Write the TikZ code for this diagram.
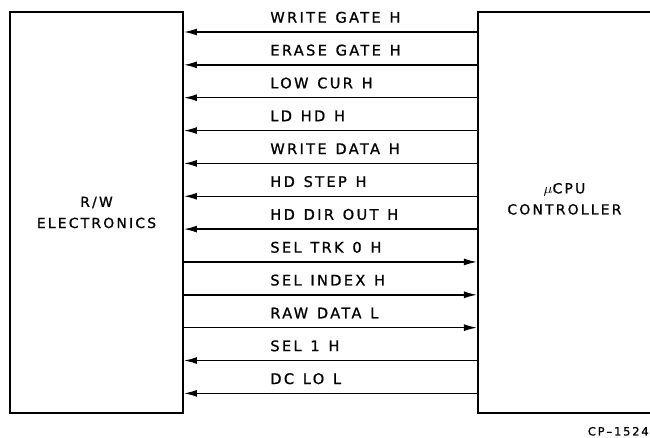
\documentclass[tikz,border=0pt]{standalone}
\usepackage{fontspec}
\newfontfamily\lettering[LetterSpace=16, FakeBold=1]{DejaVu Sans}
\newcommand\wsp{\hspace{0.6em}}
\usetikzlibrary{arrows.meta,positioning}

\begin{document}
\begin{tikzpicture}[
  node distance=0.263cm,
  unit/.style={rectangle, draw, line width=1.1pt, minimum width=3.46cm, minimum height=8.02cm, align=center, font=\lettering\fontsize{7.9}{12}\selectfont},
  sig/.style={rectangle, inner sep=0pt, text width=3.8cm, align=left, text height=0.2cm, text depth=0.18cm, font=\lettering\fontsize{8.3}{10}\selectfont},
  signal/.style={-{Latex[length=2.6mm, width=1.4mm]}, line width=0.8pt}
]
\useasboundingbox (0,0) rectangle (13,-8.76);
\node[unit] (rw) at (1.93,-4.25) {R/W\\ELECTRONICS};
\node[unit, right=5.86cm of rw, text depth=0.55cm] (ctrl) {$\mu$CPU\\CONTROLLER};
\node[sig, anchor=south west] (s1) at (5.4,-0.64) {WRITE\wsp GATE\wsp H};
\node[sig, below=of s1] (s2) {ERASE\wsp GATE\wsp H};
\node[sig, below=of s2] (s3) {LOW\wsp CUR\wsp H};
\node[sig, below=of s3] (s4) {LD\wsp HD\wsp H};
\node[sig, below=of s4] (s5) {WRITE\wsp DATA\wsp H};
\node[sig, below=of s5] (s6) {HD\wsp STEP\wsp H};
\node[sig, below=of s6] (s7) {HD\wsp DIR\wsp OUT\wsp H};
\node[sig, below=of s7] (s8) {SEL\wsp TRK\wsp 0\wsp H};
\node[sig, below=of s8] (s9) {SEL\wsp INDEX\wsp H};
\node[sig, below=of s9] (s10) {RAW\wsp DATA\wsp L};
\node[sig, below=of s10] (s11) {SEL\wsp 1\wsp H};
\node[sig, below=of s11] (s12) {DC\wsp LO\wsp L};
\draw[signal] (ctrl.west |- s1.south) -- (rw.east |- s1.south);
\draw[signal] (ctrl.west |- s2.south) -- (rw.east |- s2.south);
\draw[signal] (ctrl.west |- s3.south) -- (rw.east |- s3.south);
\draw[signal] (ctrl.west |- s4.south) -- (rw.east |- s4.south);
\draw[signal] (ctrl.west |- s5.south) -- (rw.east |- s5.south);
\draw[signal] (ctrl.west |- s6.south) -- (rw.east |- s6.south);
\draw[signal] (ctrl.west |- s7.south) -- (rw.east |- s7.south);
\draw[signal] (rw.east |- s8.south) -- (ctrl.west |- s8.south);
\draw[signal] (rw.east |- s9.south) -- (ctrl.west |- s9.south);
\draw[signal] (rw.east |- s10.south) -- (ctrl.west |- s10.south);
\draw[signal] (ctrl.west |- s11.south) -- (rw.east |- s11.south);
\draw[signal] (ctrl.west |- s12.south) -- (rw.east |- s12.south);
\node[anchor=south east, inner sep=0pt, font=\lettering\fontsize{6.5}{7}\selectfont] (fig) at (12.98,-8.72) {CP\,–\,1524};
\end{tikzpicture}
\end{document}
